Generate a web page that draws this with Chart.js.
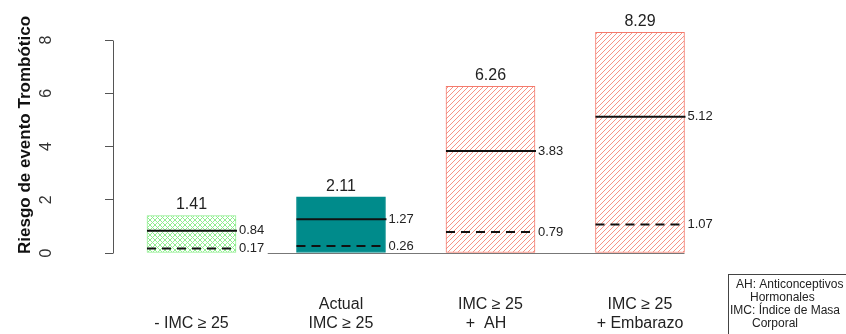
<!DOCTYPE html>
<html>
<head>
<meta charset="utf-8">
<script src="https://cdn.jsdelivr.net/npm/chart.js@4.4.1/dist/chart.umd.min.js"></script>
<style>
  html, body { margin: 0; padding: 0; background: #fff; overflow: hidden; }
  canvas { display: block; }
</style>
</head>
<body>
<canvas id="c" width="846" height="334"></canvas>
<script>
// Grupos comparados (etiquetas del eje X, en dos renglones)
const categorias = [
  ["", "- IMC ≥ 25"],
  ["Actual", "IMC ≥ 25"],
  ["IMC ≥ 25", "+  AH  "],
  ["IMC ≥ 25", "+ Embarazo"]
];
// Riesgo total de cada grupo (altura de la barra)
const riesgoTotal = [1.41, 2.11, 6.26, 8.29];
// Riesgo marcado con la línea continua
const riesgoMedio = [0.84, 1.27, 3.83, 5.12];
// Riesgo marcado con la línea discontinua
const riesgoBase = [0.17, 0.26, 0.79, 1.07];
// Marcas del eje Y
const marcasY = [0, 2, 4, 6, 8];
// Notas del recuadro de abreviaturas
const notas = ["AH: Anticonceptivos", "Hormonales", "IMC: Índice de Masa", "Corporal"];

const FUENTE = "'Liberation Sans', Arial, Helvetica, sans-serif";
const canvas = document.getElementById('c');
const ctx0 = canvas.getContext('2d');

// Trama de líneas diagonales ("/"), opcionalmente cruzada
function trama(color, fondo, paso, cruzada) {
  const t = document.createElement('canvas');
  t.width = t.height = paso;
  const g = t.getContext('2d');
  g.fillStyle = fondo;
  g.fillRect(0, 0, paso, paso);
  g.strokeStyle = color;
  g.lineWidth = 1;
  g.beginPath();
  g.moveTo(-1, paso + 1); g.lineTo(paso + 1, -1);
  g.moveTo(-1, 1); g.lineTo(1, -1);
  g.moveTo(paso - 1, paso + 1); g.lineTo(paso + 1, paso - 1);
  if (cruzada) {
    g.moveTo(-1, -1); g.lineTo(paso + 1, paso + 1);
    g.moveTo(paso - 1, -1); g.lineTo(paso + 1, 1);
    g.moveTo(-1, paso - 1); g.lineTo(1, paso + 1);
  }
  g.stroke();
  return ctx0.createPattern(t, 'repeat');
}

const tramaVerde = trama('#90EE90', '#ffffff', 5, true);
const tramaSalmon = trama('#F79486', '#ffffff', 5, false);

// Líneas internas, valores y recuadro de notas
const marcas = {
  id: 'marcas',
  beforeDatasetsDraw(chart) {
    const { ctx, scales: { x, y } } = chart;
    const barras = chart.getDatasetMeta(0).data;
    const ult = barras[barras.length - 1];
    const y0 = Math.round(y.getPixelForValue(0)) + 0.5;
    ctx.save();
    ctx.strokeStyle = '#777';
    ctx.lineWidth = 1;
    ctx.beginPath();
    ctx.moveTo(x.getPixelForValue(1.51), y0);
    ctx.lineTo(ult.x + ult.width / 2, y0);
    ctx.stroke();
    ctx.restore();
  },
  afterDatasetsDraw(chart) {
    const { ctx, scales: { y } } = chart;
    const barras = chart.getDatasetMeta(0).data;
    ctx.save();
    barras.forEach((b, i) => {
      const izq = b.x - b.width / 2;
      const der = b.x + b.width / 2;
      const yMed = y.getPixelForValue(riesgoMedio[i]);
      const yBase = y.getPixelForValue(riesgoBase[i]);

      ctx.strokeStyle = '#111';
      ctx.lineWidth = 2;
      ctx.setLineDash([]);
      ctx.beginPath();
      ctx.moveTo(izq, yMed);
      ctx.lineTo(der + 1, yMed);
      ctx.stroke();

      ctx.setLineDash([9, 6]);
      ctx.beginPath();
      ctx.moveTo(izq, yBase);
      ctx.lineTo(der + 1, yBase);
      ctx.stroke();
      ctx.setLineDash([]);

      ctx.fillStyle = '#222';
      ctx.textBaseline = 'middle';
      ctx.textAlign = 'left';
      ctx.font = `13px ${FUENTE}`;
      ctx.fillText(riesgoMedio[i].toFixed(2), der + 3, yMed);
      ctx.fillText(riesgoBase[i].toFixed(2), der + 3, yBase);

      ctx.textAlign = 'center';
      ctx.font = `16px ${FUENTE}`;
      ctx.fillText(riesgoTotal[i].toFixed(2), b.x, b.y - 10.5);
    });

    // Línea del eje Y sólo entre la primera y la última marca
    const xEje = Math.round(y.right) + 0.5;
    ctx.strokeStyle = '#555';
    ctx.lineWidth = 1;
    ctx.beginPath();
    ctx.moveTo(xEje, Math.round(y.getPixelForValue(marcasY[0])) + 0.5);
    ctx.lineTo(xEje, Math.round(y.getPixelForValue(marcasY[marcasY.length - 1])) + 0.5);
    ctx.stroke();

    // Recuadro de abreviaturas
    ctx.strokeStyle = '#444';
    ctx.strokeRect(728.5, 274.5, 200, 100);
    ctx.fillStyle = '#222';
    ctx.font = `12px ${FUENTE}`;
    ctx.textAlign = 'left';
    ctx.textBaseline = 'middle';
    const posX = [736, 750, 730, 752];
    notas.forEach((t, i) => ctx.fillText(t, posX[i], 285 + i * 12.8));
    ctx.restore();
  }
};

new Chart(canvas, {
  type: 'bar',
  data: {
    datasets: [{
      data: riesgoTotal.map((v, i) => ({ x: i + 1, y: v })),
      backgroundColor: [tramaVerde, '#008B8B', tramaSalmon, tramaSalmon],
      borderColor: ['#90EE90', '#008B8B', '#F47A6C', '#F47A6C'],
      borderWidth: 1,
      borderSkipped: false,
      barThickness: 89
    }]
  },
  options: {
    responsive: false,
    animation: false,
    devicePixelRatio: 1,
    layout: { padding: { top: 17, left: 0, right: 0, bottom: 0 } },
    plugins: { legend: { display: false }, tooltip: { enabled: false } },
    scales: {
      x: {
        type: 'linear',
        offset: false,
        min: 0.475,
        max: 5.378,
        afterBuildTicks: s => { s.ticks = categorias.map((c, i) => ({ value: i + 1 })); },
        afterFit: s => {
          s.height = 81;
          s.paddingLeft = 0;
          s.paddingRight = 0;
        },
        grid: { display: false },
        border: { display: false },
        ticks: {
          autoSkip: false,
          maxRotation: 0,
          padding: 34.5,
          color: '#222',
          font: { size: 16, family: FUENTE, lineHeight: 19 / 16 },
          callback: v => categorias[Math.round(v) - 1]
        }
      },
      y: {
        min: 0,
        max: 8.864,
        afterBuildTicks: s => { s.ticks = marcasY.map(v => ({ value: v })); },
        afterFit: s => {
          s.width = 113;
          s.paddingTop = 0;
          s.paddingBottom = 0;
        },
        border: { display: false },
        grid: { display: true, drawOnChartArea: false, drawTicks: true, tickLength: 8, color: '#555', lineWidth: 1 },
        ticks: {
          minRotation: 90,
          maxRotation: 90,
          crossAlign: 'center',
          padding: 54,
          color: '#333',
          font: { size: 16, family: FUENTE }
        },
        title: {
          display: true,
          text: 'Riesgo de evento Trombótico',
          color: '#111',
          font: { size: 17, weight: 'bold', family: FUENTE },
          padding: { top: 15, bottom: 0 }
        }
      }
    }
  },
  plugins: [marcas]
});
</script>
</body>
</html>
